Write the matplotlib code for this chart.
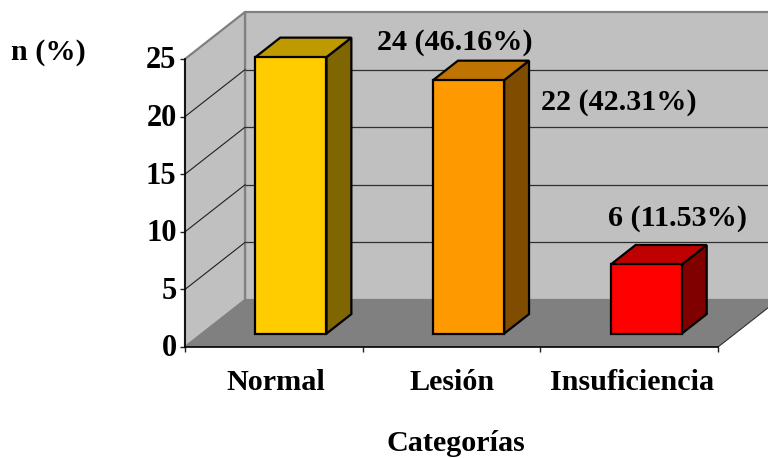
import matplotlib
matplotlib.use("Agg")
import matplotlib.pyplot as plt
from matplotlib.patches import Polygon
from matplotlib.transforms import Affine2D

categories = ["Normal", "Lesión", "Insuficiencia"]
values = [24, 22, 6]
percent_labels = ["24 (46.16%)", "22 (42.31%)", "6 (11.53%)"]
y_ticks = [0, 5, 10, 15, 20, 25]
front_colors = ["#FFCC00", "#FF9900", "#FF0000"]
top_colors = ["#BF9900", "#BF7300", "#BF0000"]
side_colors = ["#806600", "#804D00", "#800000"]

W, H = 768, 458
DX, DY = 60, 47          # full depth of the 3-D box, in pixels
BAR_D0, BAR_D1 = 0.285, 0.70
BAR_W = 0.40

plt.rcParams["font.family"] = ["Liberation Serif", "DejaVu Serif"]
plt.rcParams["font.weight"] = "bold"
FS = 21.7

fig = plt.figure(figsize=(W / 100, H / 100), dpi=100)
ax = fig.add_axes([185 / W, 1 - 347 / H, (718 - 185) / W, (347 - 59) / H])
ax.set_xlim(0, 3)
ax.set_ylim(0, 25)
ax.patch.set_visible(False)


def depth(d):
    return ax.transData + Affine2D().translate(DX * d, DY * d)


def mixed_poly(points, **kw):
    """points: (x, y, depth) -> polygon drawn through the axes scales"""
    tr = ax.transData
    disp = [tr.transform((x, y)) + (DX * d, DY * d) for x, y, d in points]
    p = Polygon(disp, closed=True, transform=None, clip_on=False, **kw)
    ax.add_artist(p)
    return p


WALL = "#C0C0C0"
FLOOR = "#808080"
EDGE = "#808080"
top_v = y_ticks[-1]
xmax = 3

# back wall, left wall, floor
mixed_poly([(0, 0, 1), (xmax, 0, 1), (xmax, top_v, 1), (0, top_v, 1)],
           facecolor=WALL, edgecolor=EDGE, linewidth=1.6, zorder=1)
mixed_poly([(0, 0, 0), (0, 0, 1), (0, top_v, 1), (0, top_v, 0)],
           facecolor=WALL, edgecolor=EDGE, linewidth=1.6, zorder=1)
mixed_poly([(0, 0, 0), (xmax, 0, 0), (xmax, 0, 1), (0, 0, 1)],
           facecolor=FLOOR, edgecolor="none", zorder=1.5)

# grid lines
for v in y_ticks[1:-1]:
    ax.plot([0, xmax], [v, v], transform=depth(1), color="#303030", lw=0.9,
            clip_on=False, zorder=2, solid_capstyle="butt")
    p0 = ax.transData.transform((0, v))
    ax.plot([p0[0], p0[0] + DX], [p0[1], p0[1] + DY], transform=None,
            color="#202020", lw=0.8, clip_on=False, zorder=2)

# right floor edge
p0 = ax.transData.transform((xmax, 0))
ax.plot([p0[0], p0[0] + DX], [p0[1], p0[1] + DY], transform=None,
        color="#303030", lw=0.8, clip_on=False, zorder=2)

# bars
lw = 1.6
for i, v in enumerate(values):
    c = i + 0.5
    l, r = c - BAR_W / 2, c + BAR_W / 2
    kw = dict(edgecolor="black", linewidth=lw, joinstyle="miter", zorder=3)
    mixed_poly([(r, 0, BAR_D0), (r, 0, BAR_D1), (r, v, BAR_D1), (r, v, BAR_D0)],
               facecolor=side_colors[i], **kw)
    mixed_poly([(l, v, BAR_D0), (r, v, BAR_D0), (r, v, BAR_D1), (l, v, BAR_D1)],
               facecolor=top_colors[i], **kw)
    mixed_poly([(l, 0, BAR_D0), (r, 0, BAR_D0), (r, v, BAR_D0), (l, v, BAR_D0)],
               facecolor=front_colors[i], **kw)

# axes
for s in ("top", "right"):
    ax.spines[s].set_visible(False)
for s in ("left", "bottom"):
    ax.spines[s].set_linewidth(1.2)
    ax.spines[s].set_zorder(4)
ax.set_yticks(y_ticks)
ax.set_yticklabels([str(t) for t in y_ticks])
ax.set_xticks(range(xmax + 1))
ax.set_xticklabels([])
ax.set_xticks([i + 0.5 for i in range(3)], categories, minor=True)
ax.tick_params(axis="both", which="major", length=3.6, width=1, color="#202020")
ax.tick_params(axis="y", labelsize=FS + 0.3, pad=2.5)
ax.tick_params(axis="x", which="minor", length=0, labelsize=FS, pad=15.8)

# small nudges of the tick labels, in pixels
nudges = [1.5, 1, 3]
for lab, dx in zip(ax.get_xticklabels(minor=True), nudges):
    lab.set_transform(lab.get_transform() + Affine2D().translate(dx, 0))
for lab in ax.get_yticklabels():
    lab.set_transform(lab.get_transform() + Affine2D().translate(0, 1.5))


def px(x, y, s, size=FS):
    fig.text(x / W, 1 - y / H, s, ha="center", va="center", fontsize=size, fontweight="bold")


label_px = [(455, 43), (619, 103), (677, 218.5)]
for (x, y), s in zip(label_px, percent_labels):
    px(x, y, s)
px(48.5, 53, "n (%)")
px(456, 443.5, "Categorías")

fig.savefig("out.png", dpi=100)
